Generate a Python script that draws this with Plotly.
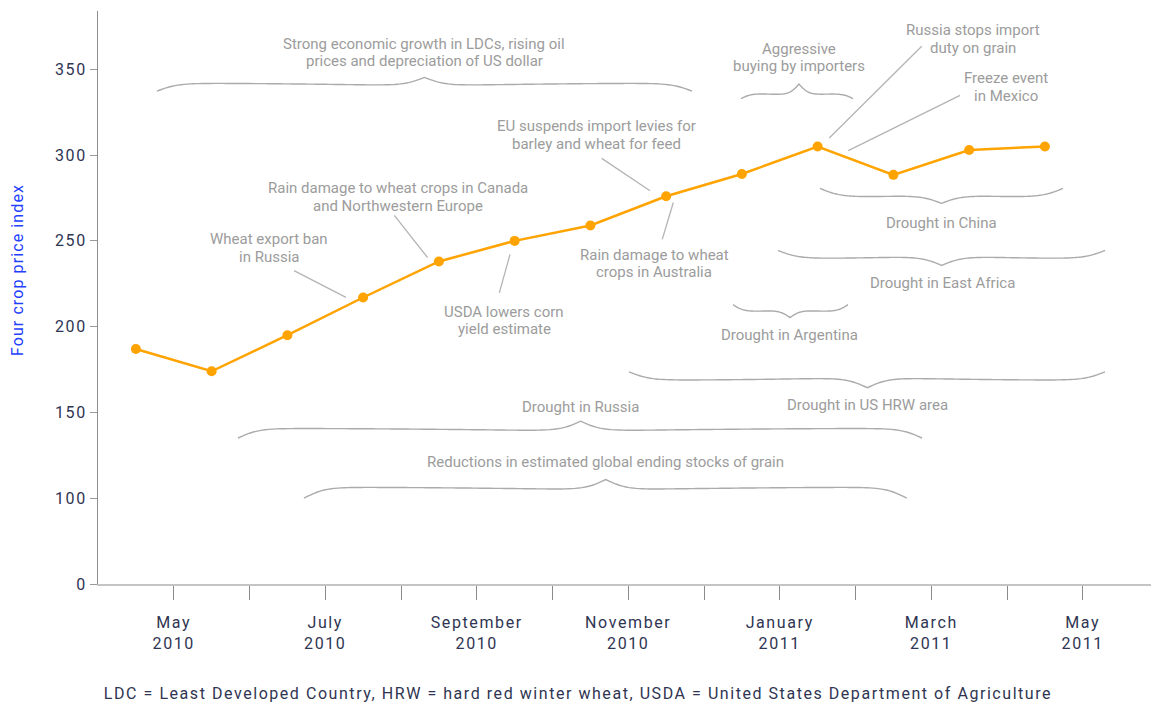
import numpy as np
import plotly.graph_objects as go

# Four crop price index, mid-month observations from April 2010 to April 2011
months = ["Apr 2010", "May 2010", "Jun 2010", "Jul 2010", "Aug 2010", "Sep 2010",
          "Oct 2010", "Nov 2010", "Dec 2010", "Jan 2011", "Feb 2011", "Mar 2011",
          "Apr 2011"]
price_index = [187, 174, 195, 217, 238, 250, 259, 276, 289, 305, 288.5, 303, 305]

# Monthly ticks (month starts from May 2010), labelled every second month
x_tick_labels = ["May<br>2010", "", "July<br>2010", "", "September<br>2010", "",
                 "November<br>2010", "", "January<br>2011", "", "March<br>2011", "",
                 "May<br>2011"]
# The value axis is broken below 100: "0" sits one step under 100
y_tick_labels = ["0", "100", "150", "200", "250", "300", "350"]
y_tick_positions = [50, 100, 150, 200, 250, 300, 350]

footnote = ("LDC = Least Developed Country, HRW = hard red winter wheat, "
            "USDA = United States Department of Agriculture")

ORANGE = "#FFA300"
NOTE = "#9c9c9c"
LEADER = "#b4b4b4"
BRACE = "#ababab"
INK = "#2f3552"
BLUE = "#2540ff"

# x is measured in months from 1 April 2010; observations sit mid-month
x_obs = np.arange(len(months)) + 0.5
x_ticks = np.arange(1, len(x_tick_labels) + 1)

fig = go.Figure()
fig.add_trace(go.Scatter(
    x=x_obs, y=price_index, mode="lines+markers",
    line=dict(color=ORANGE, width=2.5),
    marker=dict(color=ORANGE, size=10),
    text=months, hoverinfo="text+y", showlegend=False,
))

# Event notes: (lines, x, y of the block centre)
notes = [
    (["Strong economic growth in LDCs, rising oil", "prices and depreciation of US dollar"], 4.304, 359.8),
    (["Aggressive", "buying by importers"], 9.254, 356.9),
    (["Russia stops import", "duty on grain"], 11.551, 367.7),
    (["Freeze event", "in Mexico"], 11.993, 339.6),
    (["EU suspends import levies for", "barley and wheat for feed"], 6.587, 311.8),
    (["Rain damage to wheat", "crops in Australia"], 7.340, 236.8),
    (["Rain damage to wheat crops in Canada", "and Northwestern Europe"], 3.960, 275.7),
    (["Wheat export ban", "in Russia"], 2.257, 245.9),
    (["USDA lowers corn", "yield estimate"], 5.366, 203.7),
    (["Drought in China"], 11.135, 260.7),
    (["Drought in East Africa"], 11.142, 225.6),
    (["Drought in Argentina"], 9.135, 195.1),
    (["Drought in US HRW area"], 10.152, 154.1),
    (["Drought in Russia"], 6.363, 153.0),
    (["Reductions in estimated global ending stocks of grain"], 6.702, 121.3),
]
LINE_GAP = 10.2  # index units between lines of a note
for lines, x, yc in notes:
    n = len(lines)
    for i, line in enumerate(lines):
        y = yc + ((n - 1) / 2 - i) * LINE_GAP
        fig.add_annotation(x=x, y=y, xref="x", yref="y", text=line, showarrow=False,
                           xanchor="center", yanchor="middle", align="center",
                           font=dict(family="Roboto", size=15, color=NOTE))

# Leader lines from notes to the line: (x0, y0, x1, y1)
leaders = [
    (10.874, 363.5, 9.654, 310.0),
    (11.380, 334.8, 9.905, 302.6),
    (6.650, 298.1, 7.287, 279.2),
    (7.449, 250.9, 7.595, 272.4),
    (3.912, 264.9, 4.352, 240.2),
    (2.587, 232.7, 3.274, 217.1),
    (5.298, 219.7, 5.439, 242.1),
]
for x0, y0, x1, y1 in leaders:
    fig.add_shape(type="line", x0=x0, y0=y0, x1=x1, y1=y1, xref="x", yref="y",
                  line=dict(color=LEADER, width=1.3))

# Curly braces spanning event periods
# (start, end, tip x, end height, hook, tip, direction +1 = tip up, curl sharpness)
braces = [
    (0.779, 7.842, 4.310, 337.3, 4.6, 3.4, +1, 3.6),
    (8.488, 9.967, 9.254, 332.9, 3.0, 5.5, +1, 7.5),
    (9.531, 12.739, 11.135, 280.6, 5.1, 3.6, -1, 3.6),
    (8.977, 13.294, 11.138, 244.4, 4.7, 4.0, -1, 3.6),
    (8.383, 9.901, 9.135, 212.8, 4.1, 3.4, -1, 7.0),
    (7.010, 13.294, 10.156, 173.7, 4.9, 4.4, -1, 3.6),
    (1.848, 10.878, 6.372, 135.1, 5.6, 4.2, +1, 3.6),
    (2.719, 10.676, 6.702, 100.0, 6.4, 4.5, +1, 3.6),
]
SAG = 1.6  # body dips slightly towards the tip


def half_curve(d, h, hook, tip, k):
    s = np.clip(d / h, 0, 1)
    return (hook * np.tanh(k * d) - SAG * s ** 2
            + (tip + SAG) * (1 + np.tanh(k * (d - h))))


def brace_path(xa, xb, xt, y_end, hook, tip, sign, k):
    pts = []
    for x in np.linspace(xa, xt, 90):
        pts.append((x, y_end + sign * half_curve(x - xa, xt - xa, hook, tip, k)))
    for x in np.linspace(xt, xb, 90)[1:]:
        pts.append((x, y_end + sign * half_curve(xb - x, xb - xt, hook, tip, k)))
    return "M " + " L ".join(f"{x:.4f},{y:.3f}" for x, y in pts)


for b in braces:
    fig.add_shape(type="path", path=brace_path(*b), xref="x", yref="y",
                  line=dict(color=BRACE, width=1.4))

# Axis title and footnote
fig.add_annotation(text="Four crop price index", xref="paper", yref="paper",
                   x=0, y=0.547, xshift=-80, textangle=-90, showarrow=False,
                   xanchor="center", yanchor="middle",
                   font=dict(family="Roboto", size=16, color=BLUE))
fig.add_annotation(text=footnote, xref="paper", yref="paper", x=0.456, y=-0.1906,
                   showarrow=False, xanchor="center", yanchor="middle",
                   font=dict(family="Roboto", size=16, color=INK))

fig.update_layout(
    width=1151, height=704,
    margin=dict(l=98, r=0, t=11, b=120),
    paper_bgcolor="white", plot_bgcolor="white",
    xaxis=dict(range=[0, 1053 / 75.75], tickvals=x_ticks, ticktext=x_tick_labels,
               showgrid=False, zeroline=False, showline=True, linecolor="#c4c4c4",
               linewidth=2, ticks="outside", ticklen=14, tickcolor="#8a8a8a",
               tickwidth=1, ticklabelstandoff=9,
               tickfont=dict(family="Roboto", size=16, color=INK)),
    yaxis=dict(range=[50, 384], tickvals=y_tick_positions, ticktext=y_tick_labels,
               showgrid=False, zeroline=False, showline=True, linecolor="#8e8e8e",
               linewidth=1, ticks="outside", ticklen=7, tickcolor="#9a9a9a",
               tickwidth=1, tickfont=dict(family="Roboto", size=16, color=INK)),
)

spacing_js = """
document.querySelectorAll('.xtick text, .ytick text').forEach(function(t){
  t.style.letterSpacing = '1.6px';
});
document.querySelectorAll('g.annotation text').forEach(function(t){
  var s = t.textContent;
  if (s.indexOf('LDC =') === 0) { t.style.letterSpacing = '1.55px'; }
  if (s.indexOf('Four crop') === 0) { t.style.letterSpacing = '1.1px'; }
});
"""

fig.write_html("out.html", post_script=spacing_js)
